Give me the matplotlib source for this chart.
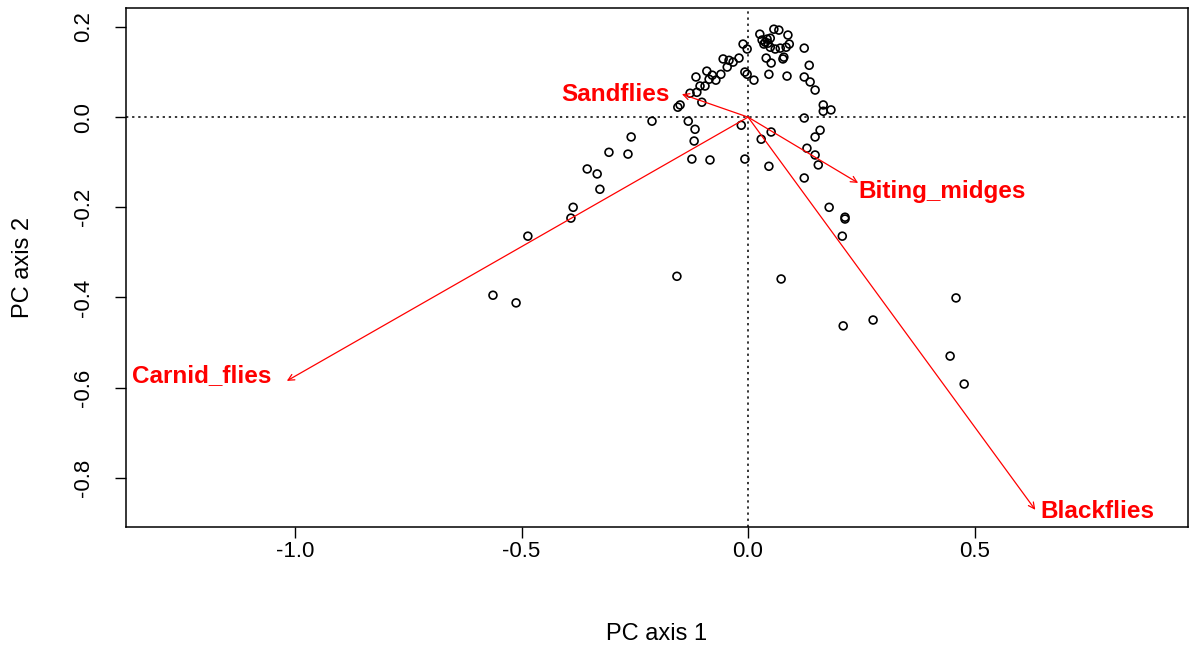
import matplotlib
matplotlib.use("Agg")
import matplotlib.pyplot as plt

# site scores (PC1, PC2)
pc1 = [0.026, 0.057, 0.068, 0.088, 0.031, 0.038, 0.042, 0.049, 0.035, 0.044,
       0.049, -0.011, -0.002, 0.060, 0.071, 0.084, 0.091, 0.124, 0.040, 0.051,
       0.079, 0.077, 0.135, 0.046, 0.086, 0.124, 0.137, 0.148, -0.007, -0.002,
       0.013, -0.055, -0.042, -0.033, -0.020, -0.046, -0.060, -0.071, -0.079, -0.091,
       -0.115, -0.086, -0.106, -0.095, -0.128, -0.113, -0.102, -0.150, -0.155, -0.212,
       -0.132, -0.117, -0.119, -0.124, -0.084, -0.258, -0.307, -0.265, -0.355, -0.333,
       -0.327, -0.386, -0.391, -0.486, -0.563, -0.512, -0.157, -0.015, -0.007, 0.029,
       0.051, 0.046, 0.073, 0.166, 0.166, 0.183, 0.124, 0.159, 0.148, 0.130,
       0.148, 0.155, 0.124, 0.179, 0.214, 0.214, 0.208, 0.459, 0.276, 0.210,
       0.446, 0.477]
pc2 = [0.184, 0.195, 0.193, 0.182, 0.171, 0.166, 0.173, 0.175, 0.162, 0.164,
       0.155, 0.162, 0.151, 0.151, 0.153, 0.155, 0.162, 0.153, 0.131, 0.120,
       0.133, 0.129, 0.115, 0.095, 0.091, 0.089, 0.078, 0.060, 0.100, 0.095,
       0.082, 0.129, 0.126, 0.122, 0.131, 0.111, 0.095, 0.082, 0.093, 0.102,
       0.089, 0.084, 0.069, 0.069, 0.053, 0.055, 0.033, 0.027, 0.022, -0.009,
       -0.009, -0.027, -0.053, -0.093, -0.095, -0.044, -0.078, -0.082, -0.115, -0.126,
       -0.160, -0.200, -0.224, -0.264, -0.395, -0.412, -0.353, -0.018, -0.093, -0.049,
       -0.033, -0.109, -0.359, 0.027, 0.013, 0.016, -0.002, -0.029, -0.044, -0.069,
       -0.084, -0.106, -0.135, -0.200, -0.222, -0.226, -0.264, -0.401, -0.450, -0.463,
       -0.530, -0.592]

# loadings
species = ["Sandflies", "Biting_midges", "Blackflies", "Carnid_flies"]
load1 = [-0.146, 0.243, 0.634, -1.018]
load2 = [0.051, -0.146, -0.871, -0.585]

plt.rcParams['font.family'] = ['Liberation Sans', 'DejaVu Sans']

fig = plt.figure(figsize=(11.93, 6.51), dpi=100)
ax = fig.add_axes([0.1056, 0.1905, 0.8902, 0.7972])

ax.axhline(0, color='k', ls=(0, (1.5, 2.5)), lw=1.1, zorder=1)
ax.axvline(0, color='k', ls=(0, (1.5, 2.5)), lw=1.1, zorder=1)

ax.scatter(pc1, pc2, s=32, facecolors='none', edgecolors='k', linewidths=1.2, zorder=2)

# label placement (ha, offset in points)
lab_style = {
    "Sandflies": ('right', (-9, 0)),
    "Biting_midges": ('left', (0, -6)),
    "Blackflies": ('left', (4, -1)),
    "Carnid_flies": ('right', (-11, 4)),
}
for name, x1, y1 in zip(species, load1, load2):
    ax.annotate('', xy=(x1, y1), xytext=(0, 0),
                arrowprops=dict(arrowstyle='->', color='red', lw=0.9,
                                mutation_scale=11, shrinkA=0, shrinkB=0),
                zorder=3)
    ha, off = lab_style[name]
    ax.annotate(name, xy=(x1, y1), xytext=off, textcoords='offset points',
                ha=ha, va='center', color='red', fontweight='bold', fontsize=17.5,
                zorder=4)

ax.set_xlim(-1.373, 0.971)
ax.set_ylim(-0.909, 0.242)
ax.set_xticks([-1.0, -0.5, 0.0, 0.5])
ax.set_xticklabels(['-1.0', '-0.5', '0.0', '0.5'])
ax.set_yticks([0.2, 0.0, -0.2, -0.4, -0.6, -0.8])
ax.set_yticklabels(['0.2', '0.0', '-0.2', '-0.4', '-0.6', '-0.8'], rotation=90, va='center')
ax.tick_params(axis='both', length=8, width=1, labelsize=16, color='k')
ax.tick_params(axis='x', pad=2)
ax.tick_params(axis='y', pad=15)
for sp in ax.spines.values():
    sp.set_linewidth(1.1)

ax.set_xlabel('PC axis 1', fontsize=17, labelpad=44)
ax.set_ylabel('PC axis 2', fontsize=17, labelpad=28)

fig.savefig('out.png', dpi=100)
